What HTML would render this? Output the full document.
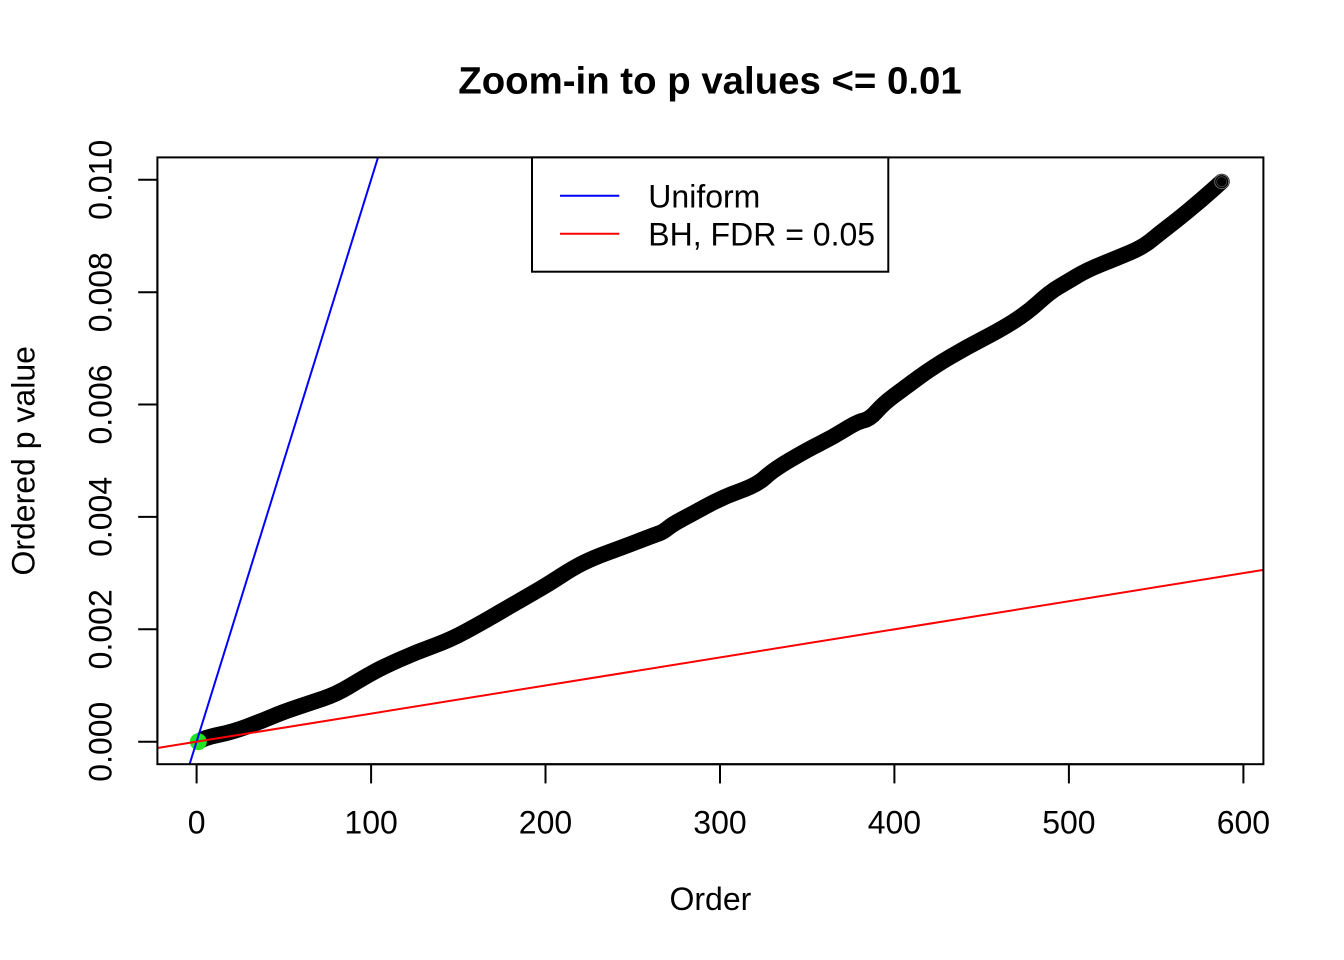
<!DOCTYPE html>
<html>
<head>
<meta charset="utf-8">
<style>
  html, body { margin: 0; padding: 0; background: #ffffff; }
  svg { display: block; }
  text { font-family: "Liberation Sans", Arial, sans-serif; fill: #000; }
</style>
</head>
<body>
<svg width="1344" height="960" viewBox="0 0 1344 960" xmlns="http://www.w3.org/2000/svg">
  <defs>
    <clipPath id="plotclip">
      <rect x="157.4" y="157.4" width="1106" height="606.8"/>
    </clipPath>
  </defs>
  <rect x="0" y="0" width="1344" height="960" fill="#ffffff"/>

  <!-- Title -->
  <text x="710" y="93.5" font-size="38.4" font-weight="bold" text-anchor="middle">Zoom-in to p values &lt;= 0.01</text>

  <!-- Data band (overlapping open circles) -->
  <g clip-path="url(#plotclip)">
    <path fill="none" stroke="#000" stroke-width="16" stroke-linejoin="round" stroke-linecap="round"
      d="M 198.3,741.7 L 202.5,739.5 Q 206.7,737.3 219.85,734.5 Q 233,731.7 246.5,726.7 Q 260,721.7 271.5,716.85 Q 283,712 296.5,707.5 Q 310,703 323.35,698.5 Q 336.7,694 349.85,686 Q 363,678 373,672.5 Q 383,667 399.85,659.5 Q 416.7,652 433.35,646 Q 450,640 466.5,631 Q 483,622 491.5,617 Q 500,612 516.5,602.5 Q 533,593 541.5,588 Q 550,583 561.5,575.5 Q 573,568 583,563 Q 593,558 608,552.5 Q 623,547 640,540.5 Q 657,534 660,533 Q 663,532 668,528 Q 673,524 681.5,519.5 Q 690,515 706.5,506 Q 723,497 740,491 Q 757,485 765,477.5 Q 773,470 790,460 Q 807,450 820,443.5 Q 833,437 845,429.5 Q 857,422 863.5,420.5 Q 870,419 876.5,411.5 Q 883,404 893,396.5 Q 903,389 918,378 Q 933,367 950,357 Q 967,347 983.5,338.5 Q 1000,330 1013.5,321.5 Q 1027,313 1038.5,302.5 Q 1050,292 1058.5,287 Q 1067,282 1077,276 Q 1087,270 1102,264 Q 1117,258 1130,252.5 Q 1143,247 1151.5,240 Q 1160,233 1168.5,226.5 Q 1177,220 1188.5,210.5 Q 1200,201 1210.85,191.35 L 1221.7,181.7"/>
    <circle cx="1221.7" cy="181.7" r="7" fill="none" stroke="#fff" stroke-width="0.8" opacity="0.5"/>
    <circle cx="1221.7" cy="181.7" r="5" fill="none" stroke="#fff" stroke-width="0.6" opacity="0.35"/>

    <!-- green point -->
    <circle cx="198.3" cy="741.7" r="8.5" fill="#1fe41f"/>

    <!-- Uniform line -->
    <line x1="189.6" y1="764.2" x2="378" y2="157.4" stroke="#0000ff" stroke-width="2"/>
    <!-- BH line -->
    <line x1="157.4" y1="748.0" x2="1263.4" y2="569.9" stroke="#ff0000" stroke-width="2"/>
  </g>

  <!-- Plot box -->
  <rect x="157.4" y="157.4" width="1106" height="606.8" fill="none" stroke="#000" stroke-width="2"/>

  <!-- X axis -->
  <g stroke="#000" stroke-width="2">
    <line x1="196.6" y1="764.2" x2="1243.4" y2="764.2"/>
    <line x1="196.6" y1="764.2" x2="196.6" y2="783.4"/>
    <line x1="371.1" y1="764.2" x2="371.1" y2="783.4"/>
    <line x1="545.5" y1="764.2" x2="545.5" y2="783.4"/>
    <line x1="720.0" y1="764.2" x2="720.0" y2="783.4"/>
    <line x1="894.4" y1="764.2" x2="894.4" y2="783.4"/>
    <line x1="1068.9" y1="764.2" x2="1068.9" y2="783.4"/>
    <line x1="1243.4" y1="764.2" x2="1243.4" y2="783.4"/>
  </g>
  <g font-size="32" text-anchor="middle">
    <text x="196.6" y="833.3">0</text>
    <text x="371.1" y="833.3">100</text>
    <text x="545.5" y="833.3">200</text>
    <text x="720.0" y="833.3">300</text>
    <text x="894.4" y="833.3">400</text>
    <text x="1068.9" y="833.3">500</text>
    <text x="1243.4" y="833.3">600</text>
  </g>
  <text x="710.4" y="910.1" font-size="32" text-anchor="middle">Order</text>

  <!-- Y axis -->
  <g stroke="#000" stroke-width="2">
    <line x1="157.4" y1="179.8" x2="157.4" y2="741.7"/>
    <line x1="138.2" y1="741.7" x2="157.4" y2="741.7"/>
    <line x1="138.2" y1="629.3" x2="157.4" y2="629.3"/>
    <line x1="138.2" y1="516.9" x2="157.4" y2="516.9"/>
    <line x1="138.2" y1="404.5" x2="157.4" y2="404.5"/>
    <line x1="138.2" y1="292.2" x2="157.4" y2="292.2"/>
    <line x1="138.2" y1="179.8" x2="157.4" y2="179.8"/>
  </g>
  <g font-size="32" text-anchor="middle">
    <text transform="translate(111.3,741.7) rotate(-90)">0.000</text>
    <text transform="translate(111.3,629.3) rotate(-90)">0.002</text>
    <text transform="translate(111.3,516.9) rotate(-90)">0.004</text>
    <text transform="translate(111.3,404.5) rotate(-90)">0.006</text>
    <text transform="translate(111.3,292.2) rotate(-90)">0.008</text>
    <text transform="translate(111.3,179.8) rotate(-90)">0.010</text>
  </g>
  <text transform="translate(34.5,460.8) rotate(-90)" font-size="32" text-anchor="middle">Ordered p value</text>

  <!-- Legend -->
  <rect x="532" y="157.4" width="356.3" height="114.3" fill="#ffffff" stroke="#000" stroke-width="2"/>
  <line x1="560" y1="195.7" x2="619.3" y2="195.7" stroke="#0000ff" stroke-width="2"/>
  <line x1="560" y1="233.7" x2="619.3" y2="233.7" stroke="#ff0000" stroke-width="2"/>
  <text x="648.3" y="207.5" font-size="32">Uniform</text>
  <text x="648.3" y="245.5" font-size="32">BH, FDR = 0.05</text>
</svg>
</body>
</html>
